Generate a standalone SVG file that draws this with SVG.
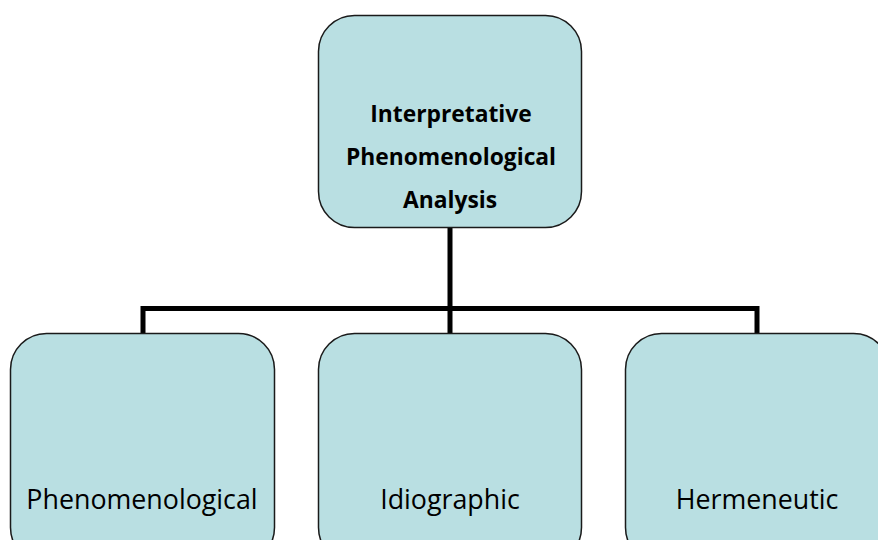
<svg xmlns="http://www.w3.org/2000/svg" width="878" height="540" viewBox="0 0 878 540">
<style>
.box{fill:#b9dfe2;stroke:#1a1a1a;stroke-width:1.5}
.t{font-family:"Open Sans","Liberation Sans",sans-serif;font-size:26.8px;fill:#000;text-anchor:middle}
.b{font-weight:bold;font-size:22.8px}
.c{fill:none;stroke:#000;stroke-width:5;stroke-linejoin:miter}
</style>
<rect width="878" height="540" fill="#fff"/>
<g id="connectors">
<path class="c" d="M450,228 V308.5 M143,334 V308.5 H757 V334 M450,308.5 V334"/>
</g>
<g id="ipa">
<rect class="box" x="318.5" y="15.5" width="263" height="212" rx="36"/>
<text class="t b" x="451" y="122">Interpretative</text>
<text class="t b" x="451" y="165">Phenomenological</text>
<text class="t b" x="450" y="208">Analysis</text>
</g>
<g id="phenomenological">
<rect class="box" x="10.5" y="333.5" width="264" height="230" rx="36"/>
<text class="t" x="142" y="509">Phenomenological</text>
</g>
<g id="idiographic">
<rect class="box" x="318.5" y="333.5" width="263" height="230" rx="36"/>
<text class="t" x="450" y="509">Idiographic</text>
</g>
<g id="hermeneutic">
<rect class="box" x="625.5" y="333.5" width="264" height="230" rx="36"/>
<text class="t" x="757" y="509">Hermeneutic</text>
</g>
</svg>
